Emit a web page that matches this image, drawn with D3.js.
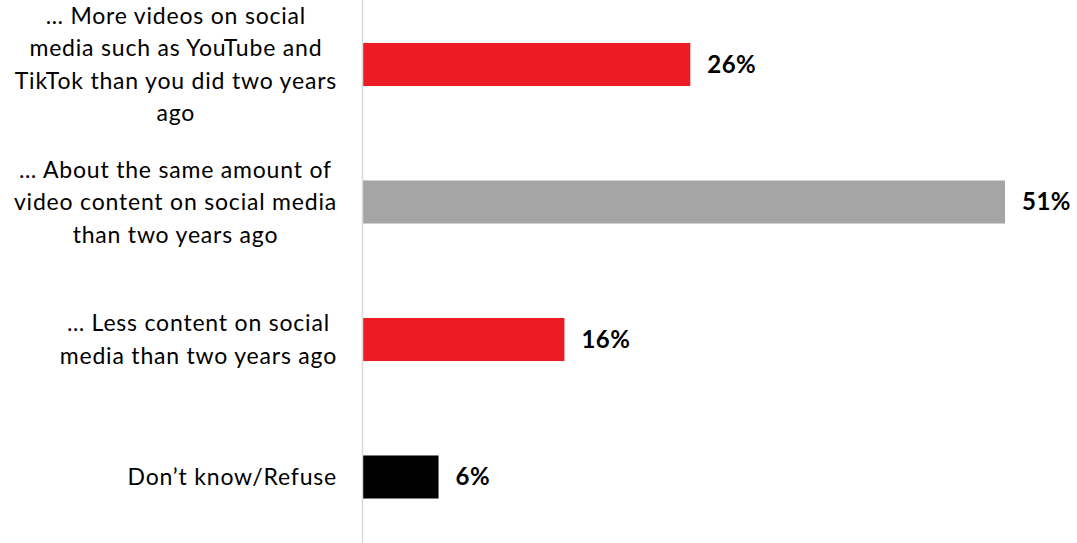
<!DOCTYPE html>
<html>
<head>
<meta charset="utf-8">
<script src="https://cdn.jsdelivr.net/npm/d3@7"></script>
<style>
  html, body { margin: 0; padding: 0; background: #fff; }
  svg { display: block; }
  text { font-family: Lato, "Open Sans", sans-serif; fill: #000; }
</style>
</head>
<body>
<svg width="1077" height="543"></svg>
<script>
// Chart data
const categories = [
    ["… More videos on social", "media such as YouTube and", "TikTok than you did two years", "ago"],
    ["… About the same amount of", "video content on social media", "than two years ago"],
    ["… Less content on social", "media than two years ago"],
    ["Don’t know/Refuse"]
];
const values = [26, 51, 16, 6];
const barColors = ["#ED1C24", "#A5A5A5", "#ED1C24", "#000000"];

const width = 1077;
const height = 543;
const axisX = 363;

const svg = d3.select("svg");

// Scales
const x = d3.scaleLinear()
    .domain([0, 51])
    .range([axisX, 1005]);

const y = d3.scaleBand()
    .domain(d3.range(values.length))
    .range([-4.25, 545.75])
    .paddingInner(0.687)
    .paddingOuter(0.3435);

// Bars
svg.selectAll("rect.bar")
    .data(values)
    .join("rect")
    .attr("class", "bar")
    .attr("x", x(0))
    .attr("y", (d, i) => y(i))
    .attr("width", d => x(d) - x(0))
    .attr("height", y.bandwidth())
    .attr("fill", (d, i) => barColors[i]);

// Axis line
svg.append("line")
    .attr("x1", axisX - 0.5).attr("x2", axisX - 0.5)
    .attr("y1", 0).attr("y2", height)
    .attr("stroke", "#d9d9d9")
    .attr("stroke-width", 1.5);

// Value labels
svg.selectAll("text.value")
    .data(values)
    .join("text")
    .attr("class", "value")
    .attr("x", d => x(d) + 17)
    .attr("y", (d, i) => y(i) + y.bandwidth() / 2)
    .attr("dy", "0.35em")
    .attr("font-size", 24)
    .attr("font-weight", "bold")
    .attr("letter-spacing", 0.5)
    .text(d => d + "%");

// Category labels: lines centered to each other, block right-aligned
const lineH = 32.5;
const rightEdge = 337;
categories.forEach((lines, i) => {
    const g = svg.append("g");
    const cy = y(i) + y.bandwidth() / 2;
    const texts = lines.map((line, j) => g.append("text")
        .attr("y", cy + (j - (lines.length - 1) / 2) * lineH)
        .attr("dy", "0.35em")
        .attr("font-size", 23)
        .attr("letter-spacing", 0.8)
        .attr("text-anchor", "middle")
        .text(line));
    const maxW = d3.max(texts, t => t.node().getComputedTextLength());
    texts.forEach(t => t.attr("x", rightEdge - maxW / 2));
});
</script>
</body>
</html>
